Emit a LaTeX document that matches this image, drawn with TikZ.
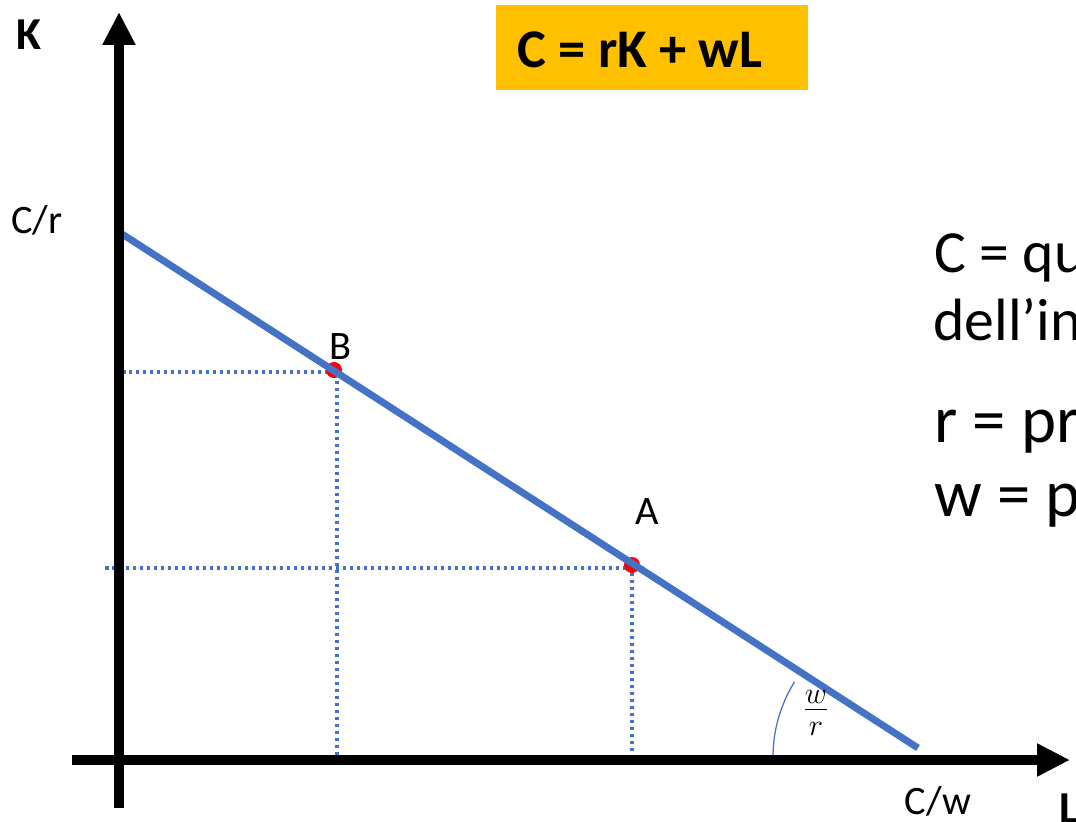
\documentclass[tikz,border=0pt]{standalone}
\usepackage{fontspec}
\setmainfont{Carlito}
\usetikzlibrary{arrows.meta}

\definecolor{budget}{HTML}{4472C4}
\definecolor{boxfill}{HTML}{FFC000}

\tikzset{
  axis/.style={line width=0.2cm, -{Triangle[length=0.66cm,width=0.62cm]}},
  guide/.style={budget, line width=0.075cm, dash pattern=on 0.07cm off 0.07cm},
  isocost/.style={budget, line width=0.14cm},
  lbl/.style={font=\fontsize{23}{27}\selectfont, inner sep=0pt},
  axlbl/.style={font=\fontsize{26}{30}\selectfont\bfseries, inner sep=0pt},
  note/.style={font=\fontsize{34}{40}\selectfont, inner sep=0pt, anchor=base west},
  bignote/.style={note, font=\fontsize{38}{44}\selectfont}
}

\begin{document}
\begin{tikzpicture}[x=0.02cm, y=-0.02cm]
  \clip (0,0) rectangle (1076,822);

  % points of the line
  \coordinate (O) at (119,760);
  \coordinate (cr) at (119,232);
  \coordinate (cw) at (918,748);
  \coordinate (B) at (334,370);
  \coordinate (A) at (632,565);
  \coordinate (aL) at (105,568);

  % cost box
  \fill[boxfill] (496,5) rectangle (808,90);
  \node[font=\fontsize{31}{36}\selectfont\bfseries] (eq) at (640,50) {C = rK + wL};

  % dotted guides
  \draw[guide] (122,372) -- (337,372) -- (337,760);
  \draw[guide] (aL) -- (A |- aL) -- (632,757);

  \fill[red] (B) circle (8);
  \fill[red] (A) circle (8);

  \draw[isocost] (cr) -- (cw);

  % angle
  \draw[budget, line width=0.025cm] (773,757) arc[start angle=180, end angle=212, radius=142];
  \node[font=\fontsize{26}{30}\selectfont] (slope) at (816,713) {$\frac{w}{r}$};

  % axes
  \draw[axis] (119,808) -- (119,12);
  \draw[axis] (72,760) -- (1070,760);

  \node[axlbl] (K) at (29,35) {K};
  \node[axlbl, anchor=north west] (L) at (1059,794) {L};
  \node[lbl] (crlbl) at (37,220) {C/r};
  \node[lbl] (cwlbl) at (938,801) {C/w};
  \node[lbl] (Blbl) at (340,347) {B};
  \node[lbl] (Albl) at (647,512) {A};

  % legend
  \node[note] (n1) at (934,272) {C = qu};
  \node[note] (n2) at (933,340) {dell’in};
  \node[bignote] (n3) at (934,442) {r = pr};
  \node[bignote] (n4) at (934,516) {w = p};
\end{tikzpicture}
\end{document}
